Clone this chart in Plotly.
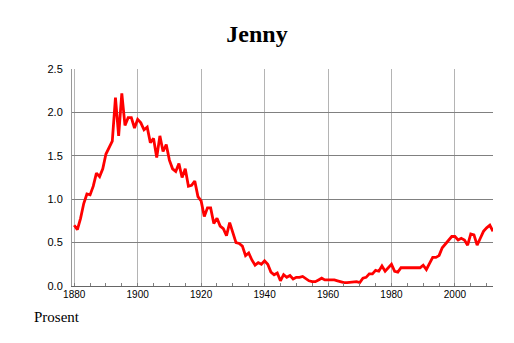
import plotly.graph_objects as go

years = list(range(1880, 2013))
values = [
    0.70, 0.65, 0.78, 0.95, 1.06, 1.05, 1.15, 1.30, 1.26, 1.35,
    1.52, 1.60, 1.67, 2.17, 1.73, 2.22, 1.85, 1.94, 1.94, 1.82,
    1.92, 1.88, 1.80, 1.83, 1.65, 1.70, 1.48, 1.73, 1.55, 1.63,
    1.45, 1.35, 1.32, 1.41, 1.25, 1.35, 1.15, 1.16, 1.21, 1.03,
    0.98, 0.80, 0.90, 0.90, 0.72, 0.78, 0.69, 0.66, 0.58, 0.73,
    0.62, 0.50, 0.49, 0.46, 0.35, 0.38, 0.30, 0.24, 0.27, 0.25,
    0.29, 0.25, 0.16, 0.13, 0.15, 0.06, 0.13, 0.10, 0.12, 0.08,
    0.10, 0.10, 0.11, 0.08, 0.06, 0.05, 0.05, 0.07, 0.09, 0.07,
    0.07, 0.07, 0.07, 0.06, 0.05, 0.04, 0.04, 0.045, 0.05, 0.05,
    0.04, 0.09, 0.10, 0.14, 0.14, 0.18, 0.17, 0.23, 0.17, 0.21,
    0.25, 0.17, 0.16, 0.21, 0.21, 0.21, 0.21, 0.21, 0.21, 0.21,
    0.24, 0.19, 0.26, 0.33, 0.33, 0.35, 0.44, 0.48, 0.52, 0.57,
    0.57, 0.53, 0.55, 0.53, 0.47, 0.60, 0.59, 0.47, 0.55, 0.63,
    0.67, 0.70, 0.63,
]
x_ticks = [1880, 1900, 1920, 1940, 1960, 1980, 2000]
y_ticks = [0.0, 0.5, 1.0, 1.5, 2.0, 2.5]
y_labels = ["0.0", "0.5", "1.0", "1.5", "2.0", "2.5"]

fig = go.Figure()
fig.add_trace(go.Scatter(
    x=years, y=values, mode="lines",
    line=dict(color="#ff0000", width=2.8),
    hoverinfo="skip",
))

W, H = 514, 343
L, R, T, B = 72, 21, 69, 57

fig.update_layout(
    width=W, height=H,
    margin=dict(l=L, r=R, t=T, b=B, pad=0),
    paper_bgcolor="white", plot_bgcolor="white",
    showlegend=False,
    title=dict(
        text="<b>Jenny</b>",
        font=dict(family="Liberation Serif", size=24, color="black"),
        xref="container", yref="container",
        x=0.5, xanchor="center",
        y=1 - 34 / H, yanchor="middle",
    ),
    xaxis=dict(
        range=[1879.3, 2012.0],
        tickvals=x_ticks,
        ticktext=[str(v) for v in x_ticks],
        ticks="inside", ticklen=3, tickcolor="#808080",
        showgrid=True, gridcolor="#b4b4b4", gridwidth=1,
        showline=True, linecolor="#666666", linewidth=1,
        zeroline=False,
        ticklabelstandoff=-1,
        tickfont=dict(family="Liberation Sans", size=10, color="black"),
        minor=dict(dtick=5, tick0=1880, ticks="inside", ticklen=3,
                   tickcolor="#808080", showgrid=False),
    ),
    yaxis=dict(
        range=[0, 2.5],
        tickvals=y_ticks,
        ticktext=y_labels,
        ticks="",
        showgrid=True, gridcolor="#808080", gridwidth=1,
        showline=True, linecolor="#999999", linewidth=1,
        zeroline=False,
        ticklabelstandoff=6,
        tickfont=dict(family="Liberation Sans", size=11, color="black"),
    ),
    annotations=[
        dict(
            text="Prosent", showarrow=False,
            xref="paper", yref="paper",
            x=(32 - L) / (W - L - R), xanchor="left",
            y=-(317 - (H - B)) / (H - T - B), yanchor="middle",
            font=dict(family="Liberation Serif", size=15, color="black"),
        )
    ],
)

fig.write_html("out.html")
